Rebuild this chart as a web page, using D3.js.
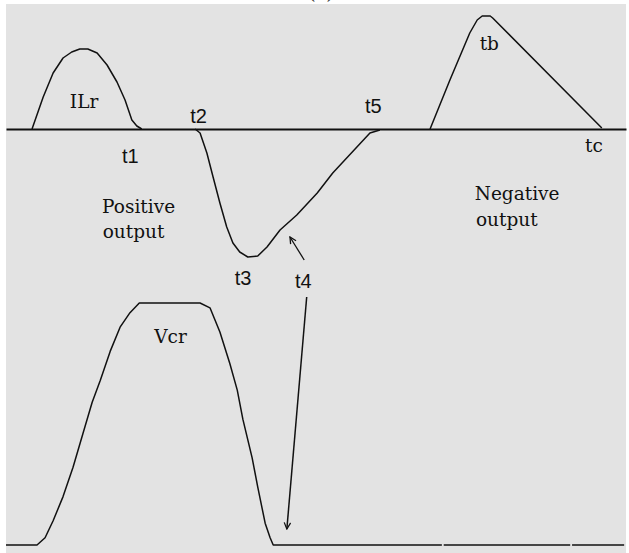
<!DOCTYPE html>
<html lang="en">
<head>
  <meta charset="utf-8">
  <title>ILr / Vcr waveforms</title>
  <script src="https://cdn.jsdelivr.net/npm/d3@7"></script>
  <style>
    body { margin: 0; background: #fff; }
    svg { display: block; }
  </style>
</head>
<body>
  <script>

  // time runs 0..100 across the plate, current in arbitrary units (0 = axis),
  // Vcr normalised so the flat top is 1

  // resonant inductor current, positive output pulse
  var ilrPulse = [[4.2, 0], [6.0, 0.32], [7.6, 0.56], [9.2, 0.71], [10.6, 0.77], [11.9, 0.80],
    [13.2, 0.80], [14.7, 0.76], [16.3, 0.64], [17.9, 0.47], [19.2, 0.29], [20.3, 0.09],
    [21.1, 0.03], [21.9, 0]];

  // negative lobe t2 -> t3 -> t5
  var negLobe = [[30.5, 0], [31.3, -0.04], [32.4, -0.24], [33.4, -0.48], [34.5, -0.74],
    [35.6, -0.98], [36.6, -1.14], [37.7, -1.23], [39.0, -1.28], [40.6, -1.27], [42.1, -1.18],
    [44.2, -1.01], [46.9, -0.86], [50.2, -0.64], [52.7, -0.44], [58.7, -0.04], [60.3, -0.01]];

  // negative output triangle up to tb, down to tc
  var tbPulse = [[68.4, 0], [71.6, 0.49], [74.8, 0.96], [76.0, 1.09], [76.8, 1.13],
    [78.1, 1.13], [78.5, 1.11], [96.1, 0.01]];

  // resonant capacitor voltage
  var vcrWave = [[0, 0], [5.0, 0], [6.3, 0.03], [7.6, 0.10], [9.2, 0.20], [10.8, 0.32],
    [12.4, 0.46], [13.9, 0.59], [15.2, 0.68], [16.8, 0.80], [18.4, 0.90], [20.0, 0.96],
    [21.5, 1.0], [31.3, 1.0], [32.9, 0.98], [34.5, 0.88], [36.1, 0.75], [37.3, 0.64],
    [38.2, 0.52], [39.7, 0.36], [40.6, 0.24], [41.8, 0.09], [42.6, 0.03], [43.1, 0], [70.3, 0]];
  var vcrTail = [[[70.6, 0], [91.0, 0]], [[91.3, 0], [99.7, 0]]];

  // labels: text, t, value, kind
  var iLabels = [
    ["ILr", 10.3, 0.21, "serif"], ["t1", 18.7, -0.34, "sans"], ["t2", 29.7, 0.06, "sans"],
    ["Positive", 15.5, -0.84, "serif"], ["output", 15.6, -1.09, "serif"],
    ["t3", 36.9, -1.56, "sans"], ["t4", 46.6, -1.59, "sans"], ["t5", 57.9, 0.16, "sans"],
    ["tb", 76.4, 0.79, "serif"], ["tc", 93.4, -0.23, "serif"],
    ["Negative", 75.6, -0.71, "serif"], ["output", 75.8, -0.97, "serif"]];
  var vLabels = [["Vcr", 23.9, 0.835, "serif"]];

  // arrows pointing at t4 (start, end)
  var iArrow = [[48.1, -1.31], [45.8, -1.08]];
  var vArrow = [[48.5, 1.025], [45.3, 0.066]];

  var width = 629, height = 553;

  var x = d3.scaleLinear().domain([0, 100]).range([6, 626]);
  var yI = d3.scaleLinear().domain([-1, 1]).range([229, 29]);
  var yV = d3.scaleLinear().domain([0, 1]).range([545, 303]);

  var svg = d3.select("body").append("svg")
    .attr("width", width)
    .attr("height", height);

  svg.append("rect")
    .attr("x", 6).attr("y", 4)
    .attr("width", 620).attr("height", height - 4)
    .attr("fill", "#e3e3e3");

  // panel tag, cut off at the top like the scan
  svg.append("text")
    .attr("x", 321).attr("y", -1)
    .attr("text-anchor", "middle")
    .attr("font-family", "'DejaVu Serif', serif")
    .attr("font-size", 19)
    .attr("fill", "#333")
    .text("(c)");

  var defs = svg.append("defs");
  defs.append("marker")
    .attr("id", "head")
    .attr("viewBox", "0 0 10 10")
    .attr("refX", 9).attr("refY", 5)
    .attr("markerUnits", "userSpaceOnUse")
    .attr("markerWidth", 8).attr("markerHeight", 8)
    .attr("orient", "auto")
    .append("path")
    .attr("d", "M1,1 L9,5 L1,9")
    .attr("fill", "none")
    .attr("stroke", "#111")
    .attr("stroke-width", 1.6);

  // time axis of the current plot
  svg.append("g")
    .attr("transform", "translate(0," + yI(0) + ")")
    .call(d3.axisBottom(x).ticks(0).tickSizeOuter(0))
    .call(g => g.select(".domain").attr("stroke", "#111").attr("stroke-width", 1.8));

  var lineI = d3.line().x(d => x(d[0])).y(d => yI(d[1]));
  var lineV = d3.line().x(d => x(d[0])).y(d => yV(d[1]));

  svg.append("g")
    .attr("fill", "none")
    .attr("stroke", "#111")
    .attr("stroke-width", 1.5)
    .attr("stroke-linejoin", "round")
    .selectAll("path")
    .data([ilrPulse, negLobe, tbPulse])
    .enter().append("path")
    .attr("d", lineI);

  svg.append("g")
    .attr("fill", "none")
    .attr("stroke", "#111")
    .attr("stroke-width", 1.5)
    .attr("stroke-linejoin", "round")
    .selectAll("path")
    .data([vcrWave].concat(vcrTail))
    .enter().append("path")
    .attr("d", lineV);

  // arrows
  svg.append("path")
    .attr("d", lineI(iArrow))
    .attr("fill", "none").attr("stroke", "#111").attr("stroke-width", 1.3)
    .attr("marker-end", "url(#head)");
  svg.append("path")
    .attr("d", lineV(vArrow))
    .attr("fill", "none").attr("stroke", "#111").attr("stroke-width", 1.5)
    .attr("marker-end", "url(#head)");

  var fonts = { serif: "'DejaVu Serif', serif", sans: "'Liberation Sans', Arial, sans-serif" };
  var sizes = { serif: 18.5, sans: 20 };

  function addLabels(data, y) {
    svg.append("g")
      .attr("fill", "#111")
      .selectAll("text")
      .data(data)
      .enter().append("text")
      .attr("x", d => x(d[1]))
      .attr("y", d => y(d[2]))
      .attr("font-family", d => fonts[d[3]])
      .attr("font-size", d => sizes[d[3]])
      .text(d => d[0]);
  }
  addLabels(iLabels, yI);
  addLabels(vLabels, yV);

  </script>
</body>
</html>
